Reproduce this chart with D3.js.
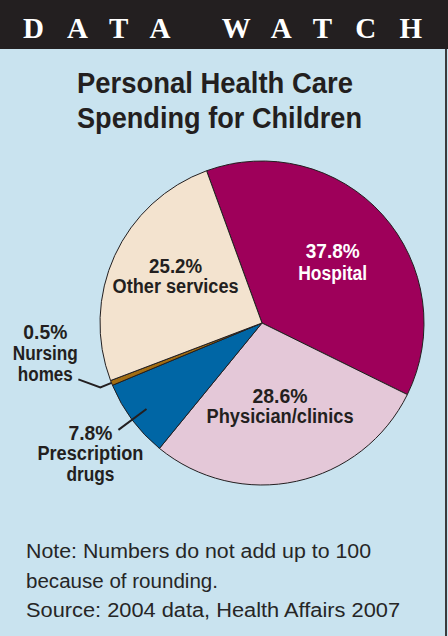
<!DOCTYPE html>
<html>
<head>
    <meta charset='utf-8'>
    <title>Personal Health Care Spending for Children</title>
    <style>
        body { margin: 0; background: #c9e3ef; }
        svg { display: block; }
    </style>
</head>
<body>
<svg id="chart"></svg>
<script src="https://cdnjs.cloudflare.com/ajax/libs/d3/7.8.5/d3.min.js"></script>
<script>
    // data, in drawing order (clockwise from the top)
    const categories = ["Hospital", "Physician/clinics", "Prescription drugs", "Nursing homes", "Other services"]
    const shares = [37.8, 28.6, 7.8, 0.5, 25.2]
    const colors = ["#9e005a", "#e4c8d8", "#0066a5", "#a26d12", "#f3e3cf"]
    const noteLines = [
        "Note: Numbers do not add up to 100",
        "because of rounding.",
        "Source: 2004 data, Health Affairs 2007"
    ]
    const noteWidths = [345, 192, 374]

    const width = 448
    const height = 636
    const cx = 262, cy = 323, radius = 162
    const sans = '"Liberation Sans", Arial, sans-serif'

    const svg = d3.select("#chart")
        .attr("width", width)
        .attr("height", height)

    svg.append("rect")
        .attr("width", width)
        .attr("height", height)
        .attr("fill", "#c9e3ef")

    // header band
    svg.append("rect")
        .attr("width", width)
        .attr("height", 49)
        .attr("fill", "#231f20")

    svg.append("text")
        .attr("x", 23)
        .attr("y", 38)
        .attr("fill", "#fff")
        .attr("font-family", '"Liberation Serif", "DejaVu Serif", serif')
        .attr("font-weight", "bold")
        .attr("font-size", 29)
        .attr("textLength", 399)
        .attr("lengthAdjust", "spacing")
        .text("DATA WATCH")

    // right edge rule
    svg.append("rect")
        .attr("x", 445)
        .attr("y", 49)
        .attr("width", 2)
        .attr("height", height - 49)
        .attr("fill", "#3a3a3c")

    // squeezed bold text, to stand in for the condensed face of the original
    const squeezed = (parent, x, y, str, len, opts) => {
        opts = opts || {}
        return parent.append("text")
            .attr("x", x)
            .attr("y", y)
            .attr("text-anchor", opts.anchor || "middle")
            .attr("font-family", sans)
            .attr("font-weight", "bold")
            .attr("font-size", opts.size || 20)
            .attr("fill", opts.fill || "#231f20")
            .attr("textLength", len)
            .attr("lengthAdjust", "spacingAndGlyphs")
            .text(str)
    }

    // title
    squeezed(svg, 77, 93, "Personal Health Care", 276, {anchor: "start", size: 29})
    squeezed(svg, 77, 128, "Spending for Children", 285, {anchor: "start", size: 29})

    // pie
    const data = categories.map((name, i) => ({name, value: shares[i], color: colors[i]}))

    const pie = d3.pie()
        .sort(null)
        .value(d => d.value)
        .startAngle(-20 * Math.PI / 180)
        .endAngle(340 * Math.PI / 180)

    const arcs = pie(data)

    const arc = d3.arc()
        .innerRadius(0)
        .outerRadius(radius)

    const g = svg.append("g")
        .attr("transform", `translate(${cx},${cy})`)

    g.selectAll("path")
        .data(arcs)
        .join("path")
        .attr("d", arc)
        .attr("fill", d => d.data.color)
        .attr("stroke", "#231f20")
        .attr("stroke-width", 1)
        .attr("stroke-linejoin", "round")

    const ring = r => d3.arc().innerRadius(r).outerRadius(r)
    const fmt = v => v.toFixed(1) + "%"

    // one text per line, widths as measured on the original
    const label = (x, y, lines, widths, fill, lead) => {
        lines.forEach((line, i) => {
            squeezed(g, x, y + i * (lead || 21), line, widths[i], {fill})
        })
    }

    // labels inside the slices
    const inside = {
        "Hospital": {r: 95, dy: -2, fill: "#fff", lines: ["Hospital"], widths: [54, 69], lead: 22},
        "Other services": {r: 95, dy: -10, fill: "#231f20", lines: ["Other services"], widths: [53, 126], lead: 20},
        "Physician/clinics": {r: 85, dy: -3, fill: "#231f20", lines: ["Physician/clinics"], widths: [55, 147], lead: 20}
    }
    arcs.forEach(d => {
        const lab = inside[d.data.name]
        if (!lab) return
        const [x, y] = ring(lab.r).centroid(d)
        label(x, y + lab.dy, [fmt(d.data.value)].concat(lab.lines), lab.widths, lab.fill, lab.lead)
    })

    // outside labels with leader lines
    const leader = d3.line()
    const lineColor = "#231f20"

    const drugs = arcs[2]
    const d0 = ring(144).centroid(drugs)
    const d1 = ring(179).centroid(drugs)
    g.append("path")
        .attr("d", leader([d0, d1]))
        .attr("fill", "none")
        .attr("stroke", lineColor)
        .attr("stroke-width", 2)
    label(d1[0] - 28, d1[1] + 10, [fmt(drugs.data.value), "Prescription", "drugs"], [44, 106, 48], "#231f20", 20.5)

    const nursing = arcs[3]
    const n0 = ring(radius).centroid(nursing)
    const n1 = ring(174).centroid(nursing)
    const n2 = [n1[0] - 22, n1[1] - 8]
    g.append("path")
        .attr("d", leader([n0, n1, n2]))
        .attr("fill", "none")
        .attr("stroke", lineColor)
        .attr("stroke-width", 2)
    label(n2[0] - 33, n2[1] - 40, [fmt(nursing.data.value), "Nursing", "homes"], [44, 65, 55], "#231f20", 21)

    // note
    noteLines.forEach((line, i) => {
        svg.append("text")
            .attr("x", 26)
            .attr("y", 558 + i * 29.5)
            .attr("font-family", sans)
            .attr("font-size", 20)
            .attr("fill", "#262626")
            .attr("textLength", noteWidths[i])
            .attr("lengthAdjust", "spacingAndGlyphs")
            .text(line)
    })
</script>
</body>
</html>
